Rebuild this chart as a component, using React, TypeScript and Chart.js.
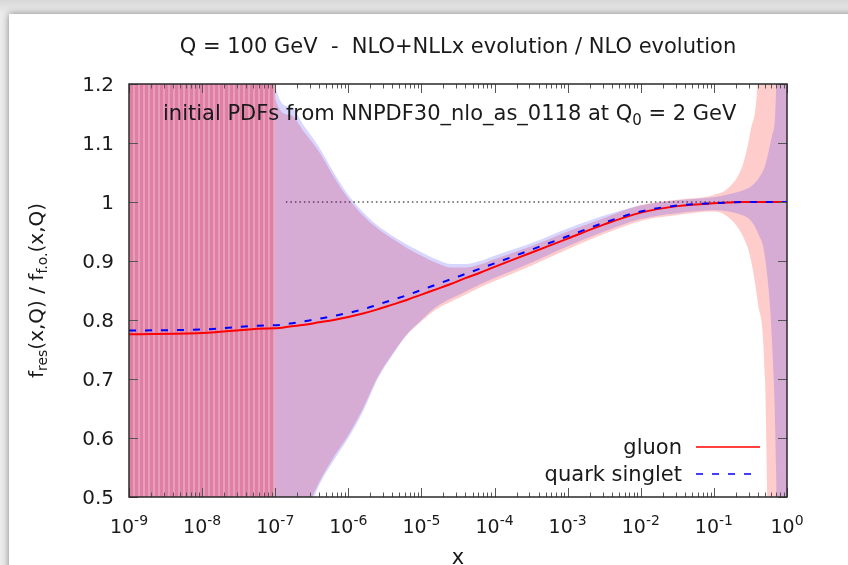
import React, { useEffect, useRef } from "react";
import { Chart, registerables } from "chart.js";
Chart.register(...registerables);

// ---------- data ----------
const xValues = [1e-9, 1e-8, 9.9e-8, 1e-7, 1.585e-7, 2.512e-7, 3.981e-7, 6.31e-7, 1e-6, 1.585e-6, 2.512e-6, 3.981e-6, 6.31e-6, 1e-5, 1.585e-5, 2.512e-5, 3.981e-5, 6.31e-5, 1e-4, 3.162e-4, 1e-3, 3.162e-3, 1e-2, 3.162e-2, 0.1, 0.1585, 0.2512, 0.3162, 0.3981, 0.5012, 0.631, 0.7079, 0.7943, 0.8913, 1];

const gluonCentral = [0.776, 0.778, 0.786, 0.786, 0.789, 0.792, 0.796, 0.8, 0.805, 0.811, 0.818, 0.826, 0.834, 0.843, 0.852, 0.861, 0.871, 0.88, 0.89, 0.914, 0.938, 0.962, 0.982, 0.993, 0.998, 0.999, 1.0, 1.0, 1.0, 1.0, 1.0, 1.0, 1.0, 1.0, 1.0];
const quarkCentral = [0.782, 0.784, 0.791, 0.791, 0.794, 0.798, 0.802, 0.807, 0.812, 0.818, 0.826, 0.834, 0.842, 0.851, 0.86, 0.869, 0.878, 0.887, 0.896, 0.919, 0.942, 0.965, 0.984, 0.994, 0.998, 0.999, 1.0, 1.0, 1.0, 1.0, 1.0, 1.0, 1.0, 1.0, 1.0];

const gluonUpper = [2, 2, 2, 1.175, 1.148, 1.118, 1.085, 1.043, 1.006, 0.977, 0.955, 0.938, 0.922, 0.909, 0.897, 0.889, 0.889, 0.894, 0.903, 0.925, 0.95, 0.973, 0.995, 1.004, 1.012, 1.024, 1.065, 1.12, 1.21, 1.6, 2, 2, 2, 2, 2];
const gluonLower = [0, 0, 0, 0.3, 0.41, 0.47, 0.525, 0.568, 0.605, 0.65, 0.703, 0.742, 0.775, 0.798, 0.818, 0.831, 0.843, 0.855, 0.866, 0.892, 0.92, 0.946, 0.968, 0.978, 0.984, 0.974, 0.941, 0.905, 0.83, 0.698, 0, 0, 0, 0, 0];
const quarkUpper = [2, 2, 2, 1.198, 1.162, 1.128, 1.093, 1.05, 1.012, 0.983, 0.96, 0.943, 0.928, 0.915, 0.903, 0.895, 0.895, 0.9, 0.909, 0.93, 0.955, 0.977, 0.994, 1.003, 1.008, 1.013, 1.02, 1.026, 1.038, 1.062, 1.115, 1.19, 2, 2, 2];
const quarkLower = [0, 0, 0, 0.3, 0.4, 0.46, 0.52, 0.562, 0.6, 0.645, 0.7, 0.74, 0.775, 0.8, 0.822, 0.836, 0.848, 0.86, 0.871, 0.897, 0.925, 0.95, 0.971, 0.981, 0.986, 0.984, 0.977, 0.969, 0.948, 0.905, 0.75, 0.55, 0, 0, 0];

const refX = [1.4e-7, 1];
const refY = [1, 1];

const xDecades = [1e-9, 1e-8, 1e-7, 1e-6, 1e-5, 1e-4, 1e-3, 1e-2, 1e-1, 1];
const xExponents = ["-9", "-8", "-7", "-6", "-5", "-4", "-3", "-2", "-1", "0"];
const yTicks = [0.5, 0.6, 0.7, 0.8, 0.9, 1.0, 1.1, 1.2];
const yTickLabels = ["0.5", "0.6", "0.7", "0.8", "0.9", "1", "1.1", "1.2"];

const titleText = "Q = 100 GeV  -  NLO+NLLx evolution / NLO evolution";
const legendLabels = ["gluon", "quark singlet"];
const leftRegionEnd = 9e-8;

const FONT = '"DejaVu Sans", sans-serif';

type Part = { t: string; s: number; dy: number };

function drawRich(ctx: CanvasRenderingContext2D, parts: Part[], x: number, y: number, align: string) {
  let w = 0;
  for (const p of parts) {
    ctx.font = `${p.s}px ${FONT}`;
    w += ctx.measureText(p.t).width;
  }
  let cx = align === "center" ? x - w / 2 : align === "right" ? x - w : x;
  ctx.textAlign = "left";
  ctx.textBaseline = "alphabetic";
  for (const p of parts) {
    ctx.font = `${p.s}px ${FONT}`;
    ctx.fillText(p.t, cx, y + p.dy);
    cx += ctx.measureText(p.t).width;
  }
}

const decorPlugin = {
  id: "decor",
  afterDraw(chart: any) {
    const { ctx, chartArea } = chart;
    const { left, right, top, bottom } = chartArea;
    const xs = chart.scales.x;
    const ys = chart.scales.y;
    ctx.save();
    // ticks
    ctx.strokeStyle = "#555";
    ctx.lineWidth = 1;
    ctx.beginPath();
    for (const d of xDecades) {
      const px = Math.round(xs.getPixelForValue(d)) + 0.5;
      ctx.moveTo(px, bottom); ctx.lineTo(px, bottom - 9);
      ctx.moveTo(px, top); ctx.lineTo(px, top + 9);
      if (d < 1) {
        for (let m = 2; m <= 9; m++) {
          const mx = Math.round(xs.getPixelForValue(d * m)) + 0.5;
          ctx.moveTo(mx, bottom); ctx.lineTo(mx, bottom - 4.5);
          ctx.moveTo(mx, top); ctx.lineTo(mx, top + 4.5);
        }
      }
    }
    for (const v of yTicks) {
      const py = Math.round(ys.getPixelForValue(v)) + 0.5;
      ctx.moveTo(left, py); ctx.lineTo(left + 9, py);
      ctx.moveTo(right, py); ctx.lineTo(right - 9, py);
    }
    ctx.stroke();
    // frame
    ctx.strokeStyle = "#2a2a2a";
    ctx.lineWidth = 1.5;
    ctx.strokeRect(left, top, right - left, bottom - top);

    ctx.fillStyle = "#1a1a1a";
    // y tick labels
    yTicks.forEach((v, i) => {
      const py = ys.getPixelForValue(v);
      drawRich(ctx, [{ t: yTickLabels[i], s: 20, dy: 0 }], left - 15, py + 7, "right");
    });
    // x tick labels
    xDecades.forEach((d, i) => {
      const px = xs.getPixelForValue(d);
      drawRich(ctx, [{ t: "10", s: 19, dy: 0 }, { t: xExponents[i], s: 14, dy: -8 }], px, bottom + 36, "center");
    });
    // title
    drawRich(ctx, [{ t: titleText, s: 21, dy: 0 }], (left + right) / 2, top - 31, "center");
    // annotation
    drawRich(ctx, [
      { t: "initial PDFs from NNPDF30_nlo_as_0118 at Q", s: 21, dy: 0 },
      { t: "0", s: 15, dy: 5 },
      { t: " = 2 GeV", s: 21, dy: 0 },
    ], left + 34, top + 36, "left");
    // x axis title
    drawRich(ctx, [{ t: "x", s: 21, dy: 0 }], (left + right) / 2, bottom + 67, "center");
    // y axis title
    ctx.save();
    ctx.translate(left - 91, (top + bottom) / 2);
    ctx.rotate(-Math.PI / 2);
    drawRich(ctx, [
      { t: "f", s: 20, dy: 0 },
      { t: "res", s: 14, dy: 4 },
      { t: "(x,Q) / f", s: 20, dy: 0 },
      { t: "f.o.", s: 14, dy: 4 },
      { t: "(x,Q)", s: 20, dy: 0 },
    ], 0, 5, "center");
    ctx.restore();
    // legend
    const rows = [
      { y: bottom - 50, color: "#ff0000", dash: [] as number[], x2: right - 27 },
      { y: bottom - 23, color: "#0000ff", dash: [7, 9], x2: right - 31 },
    ];
    rows.forEach((r, i) => {
      ctx.fillStyle = "#1a1a1a";
      drawRich(ctx, [{ t: legendLabels[i], s: 21, dy: 0 }], right - 105, r.y + 6.5, "right");
      ctx.strokeStyle = r.color;
      ctx.lineWidth = 1.5;
      ctx.setLineDash(r.dash);
      ctx.beginPath();
      ctx.moveTo(right - 91, r.y);
      ctx.lineTo(r.x2, r.y);
      ctx.stroke();
      ctx.setLineDash([]);
    });
    ctx.restore();
  },
};

function makeStripes(dark: string, light: string) {
  const c = document.createElement("canvas");
  c.width = 5; c.height = 4;
  const g = c.getContext("2d")!;
  g.fillStyle = dark; g.fillRect(0, 0, 3, 4);
  g.fillStyle = light; g.fillRect(3, 0, 2, 4);
  return g.createPattern(c, "repeat");
}

export default function App() {
  const ref = useRef<HTMLCanvasElement | null>(null);
  useEffect(() => {
    if (!ref.current) return;
    const pts = (ys: number[]) => xValues.map((x, i) => ({ x, y: ys[i] }));
    const gluonFill = "rgba(255,0,0,0.2)";
    const quarkFill = "rgba(0,0,255,0.16)";
    const gluonLeft = makeStripes("rgba(225,58,97,0.62)", "rgba(225,58,97,0.44)");
    const quarkLeft = "rgba(0,0,255,0.05)";
    const band = {
      borderWidth: 0,
      borderColor: "rgba(0,0,0,0)",
      pointRadius: 0,
      cubicInterpolationMode: "monotone",
    };
    const chart = new Chart(ref.current, {
      type: "line",
      data: {
        datasets: [
          {
            label: "quark singlet",
            data: pts(quarkCentral),
            borderColor: "#0000ff",
            borderWidth: 2,
            borderDash: [7, 9],
            pointRadius: 0,
            fill: false,
            cubicInterpolationMode: "monotone",
            order: 0,
          },
          {
            label: "gluon",
            data: pts(gluonCentral),
            borderColor: "#ff0000",
            borderWidth: 2,
            pointRadius: 0,
            fill: false,
            cubicInterpolationMode: "monotone",
            order: 1,
          },
          {
            ...band,
            label: "quark upper",
            data: pts(quarkUpper),
            fill: "+1",
            backgroundColor: quarkFill,
            segment: {
              backgroundColor: (c: any) => (c.p0.parsed.x < leftRegionEnd ? quarkLeft : quarkFill),
            },
            order: 2,
          },
          { ...band, label: "quark lower", data: pts(quarkLower), fill: false, order: 3 },
          {
            ...band,
            label: "gluon upper",
            data: pts(gluonUpper),
            fill: "+1",
            backgroundColor: gluonFill,
            segment: {
              backgroundColor: (c: any) => (c.p0.parsed.x < leftRegionEnd ? gluonLeft : gluonFill),
            },
            order: 4,
          },
          { ...band, label: "gluon lower", data: pts(gluonLower), fill: false, order: 5 },
          {
            label: "reference",
            data: refX.map((x, i) => ({ x, y: refY[i] })),
            borderColor: "#000",
            borderWidth: 1,
            borderDash: [1.5, 3],
            pointRadius: 0,
            fill: false,
            order: 6,
          },
        ] as any,
      },
      options: {
        responsive: false,
        animation: false,
        devicePixelRatio: 1,
        events: [],
        layout: { padding: { left: 129, top: 84, right: 61, bottom: 68 } },
        scales: {
          x: { type: "logarithmic", min: 1e-9, max: 1, display: false },
          y: { type: "linear", min: 0.5, max: 1.2, display: false },
        },
        plugins: {
          legend: { display: false },
          tooltip: { enabled: false },
          title: { display: false },
        },
      } as any,
      plugins: [decorPlugin],
    });
    return () => chart.destroy();
  }, []);

  return (
    <div
      style={{
        position: "absolute",
        left: 0,
        top: 0,
        width: 848,
        height: 565,
        overflow: "hidden",
        background: "linear-gradient(to bottom, #d8d8d8, #ececec 14px)",
      }}
    >
      <div
        style={{
          position: "absolute",
          left: 9,
          top: 14,
          right: -20,
          bottom: -20,
          background: "#ffffff",
          boxShadow: "0 0 7px rgba(0,0,0,0.45)",
        }}
      />
      <canvas
        ref={ref}
        width={848}
        height={565}
        style={{ position: "absolute", left: 0, top: 0 }}
      />
    </div>
  );
}
